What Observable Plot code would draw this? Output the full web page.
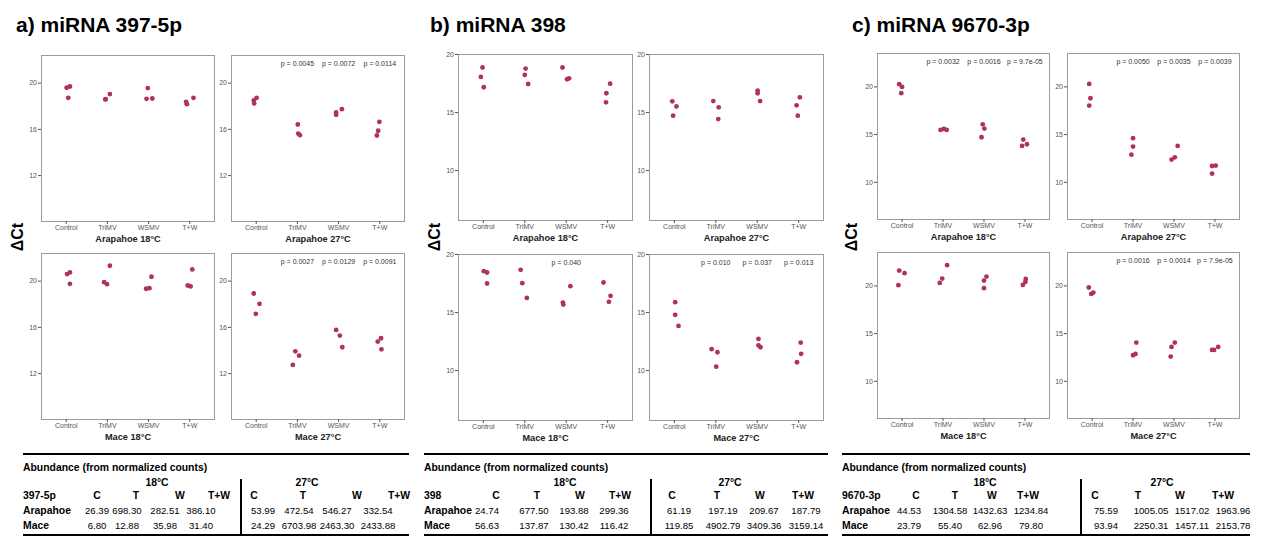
<!DOCTYPE html>
<html>
<head>
<meta charset="utf-8">
<script src="https://cdn.jsdelivr.net/npm/d3@7"></script>
<script src="https://cdn.jsdelivr.net/npm/@observablehq/plot@0.6"></script>
<style>
  html, body { margin: 0; padding: 0; background: #fff; }
  #root { position: relative; width: 1261px; height: 545px; overflow: hidden; font-family: "Liberation Sans", Arial, sans-serif; color: #000; }
  .abs { position: absolute; white-space: nowrap; line-height: 1; }
  .title { font-weight: bold; font-size: 21px; line-height: 21px; }
  .ylab { font-weight: bold; font-size: 16px; transform: translate(-50%, -50%) rotate(-90deg); }
  .c { transform: translate(-50%, -50%); }
  .l { transform: translate(0, -50%); }
  .b { font-weight: bold; font-size: 10.4px; }
  .n { font-size: 9.6px; }
  .rule { position: absolute; background: #000; }
</style>
</head>
<body>
<div id="root"></div>
<script>
// ---------- data ----------
const categories = ["Control", "TriMV", "WSMV", "T+W"];
const panelLabels = ["Arapahoe 18°C", "Arapahoe 27°C", "Mace 18°C", "Mace 27°C"];
const mirnaTitles = ["a) miRNA 397-5p", "b) miRNA 398", "c) miRNA 9670-3p"];

// ΔCt values, 3 replicates per category (Control, TriMV, WSMV, T+W)
const a_ara18 = [19.60, 19.71, 18.73, 18.59, 18.62, 19.05, 19.57, 18.64, 18.67, 18.38, 18.18, 18.73];
const a_ara27 = [18.50, 18.24, 18.73, 16.42, 15.64, 15.50, 17.46, 17.26, 17.75, 16.65, 15.88, 15.47];
const a_mac18 = [20.61, 20.75, 19.77, 19.91, 19.74, 21.33, 19.34, 19.39, 20.38, 19.62, 19.54, 21.01];
const a_mac27 = [18.93, 17.17, 18.04, 13.93, 13.55, 12.75, 15.78, 15.29, 14.28, 15.06, 14.77, 14.10];
const b_ara18 = [18.88, 18.07, 17.18, 18.79, 18.24, 17.46, 18.88, 17.87, 17.95, 16.66, 17.49, 15.88];
const b_ara27 = [15.97, 15.53, 14.73, 15.99, 15.45, 14.44, 16.89, 16.66, 15.99, 15.62, 16.31, 14.73];
const b_mac18 = [18.56, 18.45, 17.50, 18.68, 17.53, 16.26, 15.86, 15.69, 17.27, 17.59, 15.92, 16.44];
const b_mac27 = [15.89, 14.80, 13.85, 11.84, 11.58, 10.34, 12.73, 12.18, 12.01, 12.41, 11.44, 10.72];
const c_ara18 = [20.28, 20.00, 19.34, 15.49, 15.59, 15.49, 16.08, 15.63, 14.72, 14.48, 13.99, 13.81];
const c_ara27 = [20.31, 18.81, 18.04, 14.62, 13.74, 12.90, 12.38, 12.62, 13.81, 11.71, 11.75, 10.91];
const c_mac18 = [21.61, 21.33, 20.07, 20.31, 20.77, 22.17, 20.56, 20.98, 19.76, 20.10, 20.42, 20.73];
const c_mac27 = [19.83, 19.16, 19.30, 12.73, 12.87, 14.06, 12.59, 13.60, 14.06, 13.29, 13.29, 13.60];

// horizontal jitter (in category units)
const a_ara18_j = [0.01, 0.09, 0.05, -0.05, -0.04, 0.06, -0.02, -0.05, 0.09, -0.09, -0.07, 0.09];
const a_ara27_j = [-0.06, -0.05, 0.01, 0.01, 0.02, 0.06, -0.06, -0.06, 0.08, -0.01, -0.04, -0.07];
const a_mac18_j = [0.02, 0.09, 0.09, -0.08, -0.01, 0.06, -0.06, 0.02, 0.07, -0.05, 0.02, 0.06];
const a_mac27_j = [-0.06, -0.01, 0.08, -0.05, 0.04, -0.11, -0.06, 0.03, 0.09, 0.03, -0.05, 0.04];
const b_ara18_j = [-0.02, -0.06, 0.01, 0.02, 0.00, 0.08, -0.09, 0.02, 0.07, -0.03, 0.06, -0.04];
const b_ara27_j = [-0.05, 0.05, -0.03, -0.06, 0.07, 0.06, 0.01, 0.01, 0.07, -0.05, 0.03, -0.02];
const b_mac18_j = [0.01, 0.09, 0.09, -0.10, -0.06, 0.05, -0.08, -0.07, 0.10, -0.10, 0.03, 0.07];
const b_mac27_j = [0.02, 0.02, 0.10, -0.10, 0.04, 0.01, 0.03, 0.03, 0.08, 0.05, 0.06, -0.04];
const c_ara18_j = [-0.07, 0.00, -0.02, -0.06, 0.02, 0.09, -0.03, 0.01, -0.06, -0.04, 0.05, -0.07];
const c_ara27_j = [-0.07, -0.04, -0.07, 0.00, 0.00, -0.04, -0.06, 0.02, 0.09, -0.07, 0.02, -0.07];
const c_mac18_j = [-0.07, 0.06, -0.09, -0.08, -0.02, 0.10, 0.00, 0.06, 0.00, -0.05, 0.01, 0.02];
const c_mac27_j = [-0.08, -0.02, 0.03, 0.00, 0.06, 0.08, -0.08, -0.06, 0.02, -0.07, -0.02, 0.08];

// p-values per category
const noP = ["", "", "", ""];
const a_ara27_p = ["", "p = 0.0045", "p = 0.0072", "p = 0.0114"];
const a_mac27_p = ["", "p = 0.0027", "p = 0.0129", "p = 0.0091"];
const b_mac18_p = ["", "", "p = 0.040", ""];
const b_mac27_p = ["", "p = 0.010", "p = 0.037", "p = 0.013"];
const c_ara18_p = ["", "p = 0.0032", "p = 0.0016", "p = 9.7e-05"];
const c_ara27_p = ["", "p = 0.0050", "p = 0.0035", "p = 0.0039"];
const c_mac27_p = ["", "p = 0.0016", "p = 0.0014", "p = 7.9e-05"];

// y-axis ticks
const a_ticks = [12, 16, 20];
const b_ticks = [10, 15, 20];
const c_ticks = [10, 15, 20];

// abundance tables
const tableTitle = "Abundance (from normalized counts)";
const temps = ["18°C", "27°C"];
const colHeads = ["C", "T", "W", "T+W", "C", "T", "W", "T+W"];
const rowNames = ["Arapahoe", "Mace"];
const geneNames = ["397-5p", "398", "9670-3p"];
const a_abund_ara = [26.39, 698.30, 282.51, 386.10, 53.99, 472.54, 546.27, 332.54];
const a_abund_mac = [6.80, 12.88, 35.98, 31.40, 24.29, 6703.98, 2463.30, 2433.88];
const b_abund_ara = [24.74, 677.50, 193.88, 299.36, 61.19, 197.19, 209.67, 187.79];
const b_abund_mac = [56.63, 137.87, 130.42, 116.42, 119.85, 4902.79, 3409.36, 3159.14];
const c_abund_ara = [44.53, 1304.58, 1432.63, 1234.84, 75.59, 1005.05, 1517.02, 1963.96];
const c_abund_mac = [23.79, 55.40, 62.96, 79.80, 93.94, 2250.31, 1457.11, 2153.78];

// ---------- layout ----------
const root = document.getElementById("root");
const FH = 166;
const groups = [
  { title: mirnaTitles[0], tx: 16, ylx: 18, w: 173, yDomain: [8.03, 22.39], ticks: a_ticks,
    frames: [[41, 55], [231, 55], [41, 253], [231, 253]],
    vals: [a_ara18, a_ara27, a_mac18, a_mac27], jit: [a_ara18_j, a_ara27_j, a_mac18_j, a_mac27_j],
    pv: [noP, a_ara27_p, noP, a_mac27_p],
    tbl: { left: 23, right: 409, vline: 240, temps: [157, 307],
      hdr: [97, 136, 180, 219, 254, 303, 357, 399], val: [97, 127, 165, 201, 263, 299, 337, 378],
      gene: geneNames[0], rows: [a_abund_ara, a_abund_mac] } },
  { title: mirnaTitles[1], tx: 430, ylx: 435, w: 174, yDomain: [5.7, 20.0], ticks: b_ticks,
    frames: [[458, 54], [649, 54], [458, 254], [649, 254]],
    vals: [b_ara18, b_ara27, b_mac18, b_mac27], jit: [b_ara18_j, b_ara27_j, b_mac18_j, b_mac27_j],
    pv: [noP, noP, b_mac18_p, b_mac27_p],
    tbl: { left: 424, right: 828, vline: 650, temps: [565, 730],
      hdr: [496, 537, 580, 620, 672, 717, 760, 803], val: [487, 534, 574, 614, 679, 723, 764, 806],
      gene: geneNames[1], rows: [b_abund_ara, b_abund_mac] } },
  { title: mirnaTitles[2], tx: 852, ylx: 852, w: 172, yDomain: [6.1, 23.5], ticks: c_ticks,
    frames: [[877, 53], [1067, 53], [877, 252], [1067, 252]],
    vals: [c_ara18, c_ara27, c_mac18, c_mac27], jit: [c_ara18_j, c_ara27_j, c_mac18_j, c_mac27_j],
    pv: [c_ara18_p, c_ara27_p, noP, c_mac27_p],
    tbl: { left: 842, right: 1250, vline: 1080, temps: [985, 1162],
      hdr: [916, 955, 992, 1028, 1095, 1138, 1180, 1223], val: [909, 950, 990, 1031, 1106, 1151, 1192, 1233],
      gene: geneNames[2], rows: [c_abund_ara, c_abund_mac] } }
];

function panel(vals, jit, pv, yDomain, ticks, label, w) {
  const data = vals.map((v, i) => ({ x: Math.floor(i / 3) + jit[i], y: v }));
  const pdata = pv.map((t, i) => ({ x: i, t })).filter(d => d.t);
  return Plot.plot({
    width: w + 25, height: FH + 31,
    marginLeft: 24, marginRight: 1, marginTop: 1, marginBottom: 30,
    style: { fontFamily: "'Liberation Sans', Arial, sans-serif", background: "transparent", overflow: "visible" },
    x: { domain: [-0.6, 3.6] },
    y: { domain: yDomain },
    marks: [
      Plot.frame({ stroke: "#9c9c9c", strokeWidth: 1 }),
      Plot.axisX({ ticks: [0, 1, 2, 3], tickFormat: i => categories[i], tickSize: 3, tickPadding: 1,
                   fontSize: 7, color: "#555", label: null }),
      Plot.axisY({ ticks, tickSize: 3, tickPadding: 1.5, fontSize: 7, color: "#555", label: null }),
      Plot.dot(data, { x: "x", y: "y", r: 2.4, fill: "#B03060", stroke: "none" }),
      Plot.text(pdata, { x: "x", text: "t", frameAnchor: "top", dy: 6, fontSize: 7, fill: "#333" }),
      Plot.text([label], { frameAnchor: "bottom", dy: 20, text: d => d, fontWeight: "bold", fontSize: 9.2, fill: "#222" })
    ]
  });
}

function addText(txt, x, y, cls) {
  const d = document.createElement("div");
  d.className = "abs " + cls;
  d.style.left = x + "px";
  d.style.top = y + "px";
  d.textContent = txt;
  root.appendChild(d);
  return d;
}
function addRule(x, y, w, h) {
  const d = document.createElement("div");
  d.className = "rule";
  d.style.left = x + "px"; d.style.top = y + "px";
  d.style.width = w + "px"; d.style.height = h + "px";
  root.appendChild(d);
}

groups.forEach(g => {
  addText(g.title, g.tx, 14, "title");
  addText("ΔCt", g.ylx, 237, "ylab");
  g.frames.forEach(([fx, fy], k) => {
    const svg = panel(g.vals[k], g.jit[k], g.pv[k], g.yDomain, g.ticks, panelLabels[k], g.w);
    svg.style.position = "absolute";
    svg.style.left = (fx - 24) + "px";
    svg.style.top = (fy - 1) + "px";
    root.appendChild(svg);
  });
  const t = g.tbl;
  addRule(t.left, 453, t.right - t.left, 2);
  addText(tableTitle, t.left, 468, "l b");
  addText(temps[0], t.temps[0], 483, "c b");
  addText(temps[1], t.temps[1], 483, "c b");
  addText(t.gene, t.left, 496, "l b");
  colHeads.forEach((h, i) => addText(h, t.hdr[i], 496, "c b"));
  rowNames.forEach((r, ri) => {
    const y = 511 + ri * 15;
    addText(r, t.left, y, "l b");
    t.rows[ri].forEach((v, i) => addText(v.toFixed(2), t.val[i], y, "c n"));
  });
  addRule(t.left, 534, t.right - t.left, 1.5);
  addRule(t.vline, 479, 1.5, 55);
});
</script>
</body>
</html>
